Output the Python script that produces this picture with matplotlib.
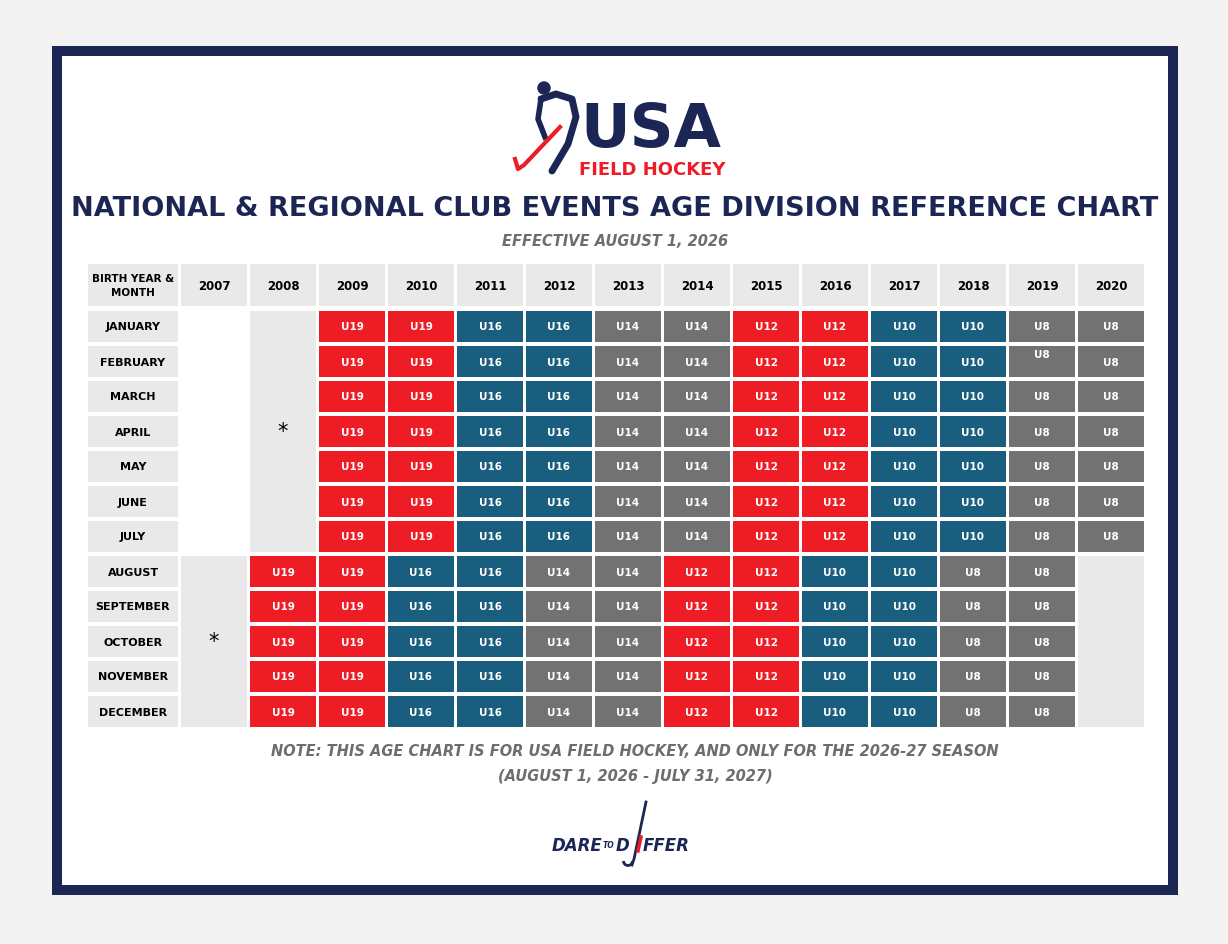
import matplotlib

matplotlib.use("Agg")
import matplotlib.pyplot as plt
from matplotlib.patches import Rectangle, Arc

plt.rcParams["font.family"] = ["DejaVu Sans"]

NAVY = "#1b2655"
RED = "#ee1c25"
TEAL = "#195e7e"
GREY = "#727272"
LIGHT = "#e9e9e9"

years = ["2007", "2008", "2009", "2010", "2011", "2012", "2013", "2014",
         "2015", "2016", "2017", "2018", "2019", "2020"]
months = ["JANUARY", "FEBRUARY", "MARCH", "APRIL", "MAY", "JUNE", "JULY",
          "AUGUST", "SEPTEMBER", "OCTOBER", "NOVEMBER", "DECEMBER"]
# division by birth year, Jan-Jul births (2009-2020) and Aug-Dec births (2008-2019)
jan_jul_divs = ["U19", "U19", "U16", "U16", "U14", "U14", "U12", "U12", "U10", "U10", "U8", "U8"]
aug_dec_divs = ["U19", "U19", "U16", "U16", "U14", "U14", "U12", "U12", "U10", "U10", "U8", "U8"]
div_colors = {"U19": RED, "U16": TEAL, "U14": GREY, "U12": RED, "U10": TEAL, "U8": GREY}

fig = plt.figure(figsize=(12.28, 9.45), dpi=100)
fig.patch.set_facecolor("#f3f3f3")
ax = fig.add_axes([0, 0, 1, 1])
ax.set_xlim(0, 1228)
ax.set_ylim(945, 0)
ax.axis("off")

# frame
ax.add_patch(Rectangle((52, 47), 1126, 849, facecolor=NAVY, edgecolor="none"))
ax.add_patch(Rectangle((62, 57), 1106, 829, facecolor="white", edgecolor="none"))

COND = dict(fontweight="bold")

# logo
ax.add_patch(plt.Circle((544, 89), 6, color=NAVY))
ax.plot([541, 556, 572, 576, 568, 552], [100, 95, 100, 118, 145, 172],
        color=NAVY, lw=5, solid_capstyle="round")
ax.plot([541, 538, 545], [100, 120, 138], color=NAVY, lw=4)
ax.plot([560, 524, 518, 515], [128, 166, 170, 160], color=RED, lw=3)
ax.text(651, 130, "USA", color=NAVY, fontsize=44, ha="center", va="center", **COND)
ax.text(652, 170, "FIELD HOCKEY", color=RED, fontsize=13, ha="center", va="center", **COND)

ax.text(615, 209, "NATIONAL & REGIONAL CLUB EVENTS AGE DIVISION REFERENCE CHART",
        color=NAVY, fontsize=19.5, ha="center", va="center", **COND)
ax.text(615, 241, "EFFECTIVE AUGUST 1, 2026", color="#6d6d6d", fontsize=10.5,
        ha="center", va="center", style="italic", **COND)

# table geometry
x0, step, cw = 181, 69, 66
y_head, h_head = 265, 42
y0, rstep, rh = 312, 35, 31

def cell(col, row, color, text="", tcolor="white", dy=0, fs=7.5):
    x = x0 + col * step
    y = y0 + row * rstep
    ax.add_patch(Rectangle((x, y), cw, rh, facecolor=color, edgecolor="none"))
    if text:
        ax.text(x + cw / 2, y + rh / 2 + dy, text, color=tcolor, fontsize=fs,
                ha="center", va="center", **COND)

ax.add_patch(Rectangle((88, y_head), 90, h_head, facecolor=LIGHT, edgecolor="none"))
ax.text(133, y_head + h_head / 2, "BIRTH YEAR &\nMONTH", fontsize=7.5, ha="center",
        va="center", linespacing=1.5, **COND)
for i, yr in enumerate(years):
    x = x0 + i * step
    ax.add_patch(Rectangle((x, y_head), cw, h_head, facecolor=LIGHT, edgecolor="none"))
    ax.text(x + cw / 2, y_head + h_head / 2, yr, fontsize=8.5, ha="center", va="center", **COND)

for r, m in enumerate(months):
    y = y0 + r * rstep
    ax.add_patch(Rectangle((88, y), 90, rh, facecolor=LIGHT, edgecolor="none"))
    ax.text(133, y + rh / 2, m, fontsize=8, ha="center", va="center", **COND)

# spanning grey blocks with asterisks
ax.add_patch(Rectangle((x0 + step, y0), cw, 7 * rstep - 4, facecolor=LIGHT, edgecolor="none"))
ax.text(x0 + step + cw / 2, y0 + 3 * rstep + rh / 2, "*", fontsize=15, ha="center", va="center")
ax.add_patch(Rectangle((x0, y0 + 7 * rstep), cw, 5 * rstep - 4, facecolor=LIGHT, edgecolor="none"))
ax.text(x0 + cw / 2, y0 + 9 * rstep + rh / 2, "*", fontsize=15, ha="center", va="center")
ax.add_patch(Rectangle((x0 + 13 * step, y0 + 7 * rstep), cw, 5 * rstep - 4,
                       facecolor=LIGHT, edgecolor="none"))

for r in range(7):
    for j, d in enumerate(jan_jul_divs):
        dy = -8 if (r == 1 and j == 10) else 0
        cell(j + 2, r, div_colors[d], d, dy=dy)
for r in range(7, 12):
    for j, d in enumerate(aug_dec_divs):
        cell(j + 1, r, div_colors[d], d)

ax.text(635, 752, "NOTE: THIS AGE CHART IS FOR USA FIELD HOCKEY, AND ONLY FOR THE 2026-27 SEASON",
        color="#6d6d6d", fontsize=10.5, ha="center", va="center", style="italic", **COND)
ax.text(635, 777, "(AUGUST 1, 2026 - JULY 31, 2027)", color="#6d6d6d", fontsize=10.5,
        ha="center", va="center", style="italic", **COND)

# dare to differ mark
ax.plot([646, 634, 632], [803, 860, 866], color=NAVY, lw=2)
ax.add_patch(Arc((628, 862), 9, 9, theta1=0, theta2=180, color=NAVY, lw=2))
ax.text(602, 846, "DARE", color=NAVY, fontsize=12, ha="right", va="center", style="italic", **COND)
ax.text(603, 846, "TO", color=NAVY, fontsize=5.5, ha="left", va="center", style="italic", **COND)
ax.text(616, 846, "D", color=NAVY, fontsize=12, ha="left", va="center", style="italic", **COND)
ax.text(643, 846, "FFER", color=NAVY, fontsize=12, ha="left", va="center", style="italic", **COND)
ax.plot([641, 638], [838, 852], color=RED, lw=2.5)

fig.savefig("out.png", dpi=100)
